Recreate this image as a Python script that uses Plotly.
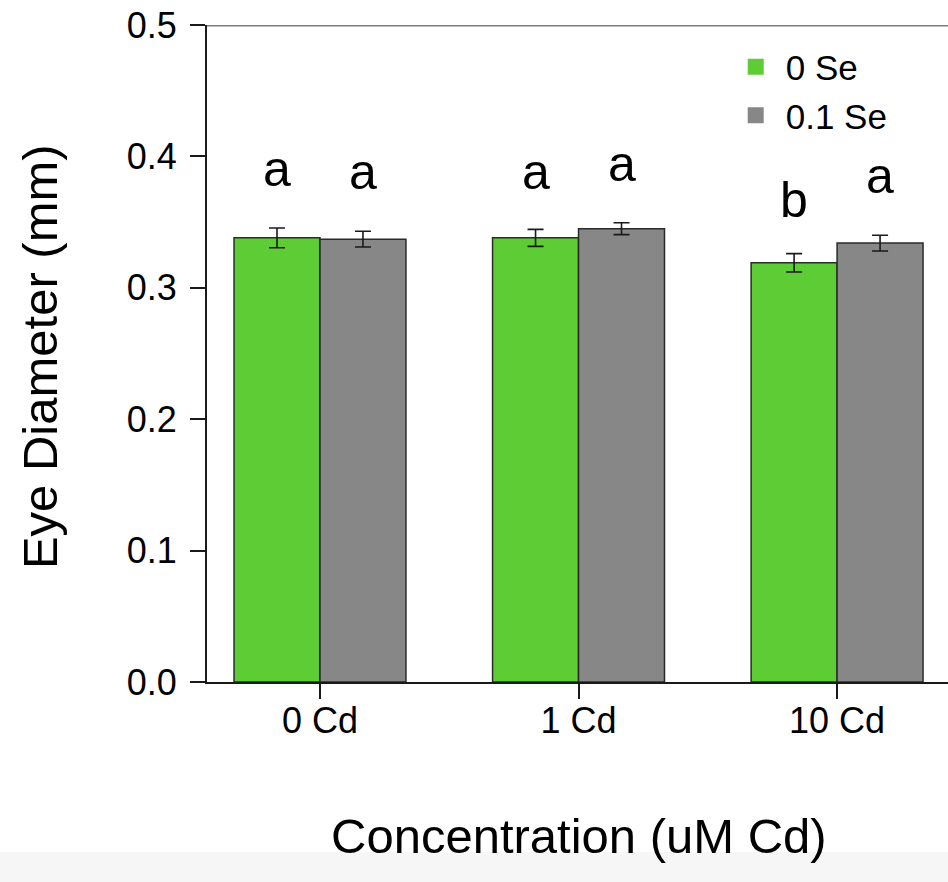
import plotly.graph_objects as go

categories = ["0 Cd", "1 Cd", "10 Cd"]
series_names = ["0 Se", "0.1 Se"]
se0_values = [0.338, 0.338, 0.319]
se0_errors = [0.0075, 0.0065, 0.007]
se01_values = [0.337, 0.345, 0.334]
se01_errors = [0.006, 0.0045, 0.006]
se0_letters = ["a", "a", "b"]
se01_letters = ["a", "a", "a"]
se0_letter_y = [0.376, 0.374, 0.352]
se01_letter_y = [0.374, 0.380, 0.371]
y_ticks = [0.0, 0.1, 0.2, 0.3, 0.4, 0.5]

GREEN = "#5ecc35"
GRAY = "#878787"
FONT = "Liberation Sans, Arial, Helvetica, sans-serif"

fig = go.Figure()
for name, vals, errs, col in [(series_names[0], se0_values, se0_errors, GREEN),
                              (series_names[1], se01_values, se01_errors, GRAY)]:
    fig.add_trace(go.Bar(
        x=categories, y=vals, name=name, showlegend=False,
        marker=dict(color=col, line=dict(color="#2b2b2b", width=1.5)),
        error_y=dict(type="data", array=errs, visible=True, color="#1a1a1a", thickness=1.6, width=8),
    ))
    fig.add_trace(go.Scatter(
        x=[None], y=[None], mode="markers", name=name, showlegend=True,
        marker=dict(symbol="square", size=17, color=col, line=dict(width=0)),
    ))

bar_px = 86
for letters, ys, shift in [(se0_letters, se0_letter_y, -bar_px / 2), (se01_letters, se01_letter_y, bar_px / 2)]:
    for cat, lt, yv in zip(categories, letters, ys):
        fig.add_annotation(x=cat, y=yv, text=lt, showarrow=False, xshift=shift,
                           yanchor="bottom", yshift=-11, font=dict(size=50, color="black", family=FONT))

# top border line
fig.add_shape(type="line", xref="paper", yref="y", x0=0, x1=1, y0=0.5, y1=0.5,
              line=dict(color="#7a7a7a", width=3))
# bottom gray band
fig.add_shape(type="rect", xref="paper", yref="paper", x0=-0.3, x1=1.01, y0=-0.2588, y1=-0.32,
              fillcolor="#f6f6f6", line=dict(width=0), layer="below")

fig.add_annotation(xref="paper", yref="paper", x=-0.2254, y=0.496, text="Eye Diameter (mm)",
                   xanchor="center", yanchor="middle",
                   textangle=-90, showarrow=False, font=dict(size=49, color="black", family=FONT))
fig.add_annotation(xref="paper", yref="paper", x=0.502, y=-0.2344, text="Concentration (uM Cd)",
                   xanchor="center", yanchor="middle",
                   showarrow=False, font=dict(size=49, color="black", family=FONT))

fig.update_layout(
    width=948, height=882,
    margin=dict(l=207, r=0, t=25, b=200),
    paper_bgcolor="white", plot_bgcolor="white",
    barmode="group", bargap=0.335, bargroupgap=0,
    font=dict(family=FONT, size=36, color="black"),
    showlegend=True,
    legend=dict(x=0.700, y=0.981, xanchor="left", yanchor="top",
                bgcolor="rgba(0,0,0,0)", font=dict(size=35), itemwidth=50,
                tracegroupgap=0),
    xaxis=dict(type="category", range=[-0.437, 2.429], showgrid=False, zeroline=False,
               showline=True, linecolor="#1a1a1a", linewidth=1.5,
               ticks="outside", ticklen=15, tickwidth=1.5, tickcolor="#1a1a1a",
               tickfont=dict(size=36), ticklabelstandoff=-9),
    yaxis=dict(range=[0, 0.5], tickvals=y_ticks, tickformat=".1f", showgrid=False, zeroline=False,
               showline=True, linecolor="#1a1a1a", linewidth=2,
               ticks="outside", ticklen=15, tickwidth=1.5, tickcolor="#1a1a1a",
               tickfont=dict(size=36), ticklabelstandoff=6, ticklabeloverflow="allow"),
)

fig.write_html("out.html", config={"displayModeBar": False},
               post_script="document.body.style.margin='0';document.body.style.overflow='hidden';")
